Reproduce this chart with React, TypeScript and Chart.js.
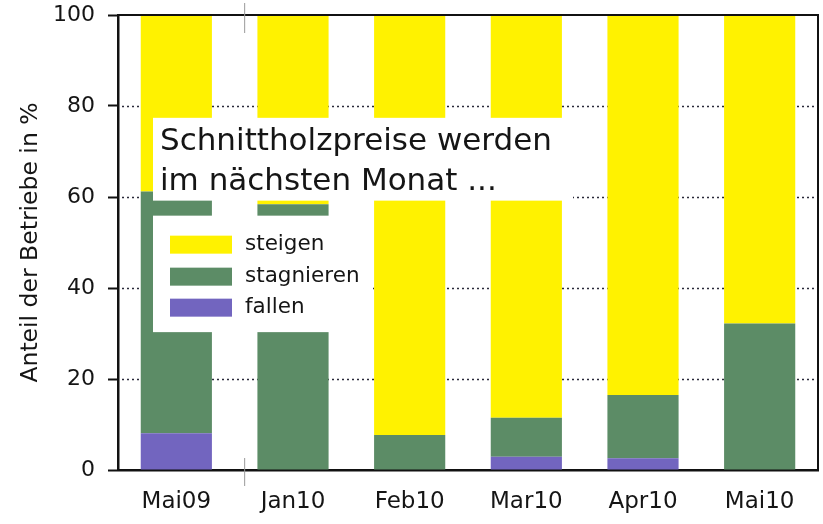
import React, { useEffect, useRef } from "react";
import { Chart, registerables } from "chart.js";

Chart.register(...registerables);

const categories = ["Mai09", "Jan10", "Feb10", "Mar10", "Apr10", "Mai10"];
const fallen = [8.1, 0, 0, 2.9, 2.6, 0];
const stagnieren = [53.1, 58.4, 7.7, 8.6, 13.9, 32.2];
const steigen = [38.8, 41.6, 92.3, 88.5, 83.5, 67.8];
const yTicks = [0, 20, 40, 60, 80, 100];
const legendLabels = ["steigen", "stagnieren", "fallen"];
const titleLines = ["Schnittholzpreise werden", "im nächsten Monat ..."];
const yAxisTitle = "Anteil der Betriebe in %";

const YELLOW = "#fff200";
const GREEN = "#5c8c66";
const PURPLE = "#7265bf";
const FONT = "'DejaVu Sans', sans-serif";
const TEXT = "#151515";

const overlayPlugin = {
  id: "overlay",
  beforeDatasetsDraw(chart: any) {
    const { ctx, chartArea: ca } = chart;
    const y = chart.scales.y;
    ctx.save();
    ctx.strokeStyle = "#2a2a3a";
    ctx.lineWidth = 1.6;
    ctx.setLineDash([2, 3]);
    yTicks.forEach((v) => {
      if (v === 0 || v === 100) return;
      const py = Math.round(y.getPixelForValue(v)) + 0.5;
      ctx.beginPath();
      ctx.moveTo(ca.left + 4, py);
      ctx.lineTo(ca.right, py);
      ctx.stroke();
    });
    ctx.restore();
  },
  afterDatasetsDraw(chart: any) {
    const { ctx, chartArea: ca } = chart;
    const y = chart.scales.y;
    const x = chart.scales.x;
    ctx.save();
    // title box
    const tTop = y.getPixelForValue(77.4);
    const tBot = y.getPixelForValue(59.2);
    ctx.fillStyle = "#ffffff";
    ctx.fillRect(ca.left + 35, tTop, 420, tBot - tTop);
    // legend box
    const lTop = y.getPixelForValue(55.9);
    const lBot = y.getPixelForValue(30.3);
    ctx.fillRect(ca.left + 35, lTop, 220, lBot - lTop);

    ctx.fillStyle = TEXT;
    ctx.font = `31px ${FONT}`;
    ctx.textAlign = "left";
    ctx.textBaseline = "alphabetic";
    ctx.fillText(titleLines[0], ca.left + 42, tTop + 32);
    ctx.fillText(titleLines[1], ca.left + 42, tTop + 72);

    const colors = [YELLOW, GREEN, PURPLE];
    const offs = [20, 52, 83];
    ctx.font = `21.5px ${FONT}`;
    ctx.textBaseline = "middle";
    legendLabels.forEach((lab, i) => {
      const top = lTop + offs[i];
      ctx.fillStyle = colors[i];
      ctx.fillRect(ca.left + 52, top, 62, 18);
      ctx.fillStyle = TEXT;
      ctx.fillText(lab, ca.left + 127, top + 9);
    });

    // top and right frame
    ctx.strokeStyle = "#111";
    ctx.lineWidth = 2;
    ctx.beginPath();
    ctx.moveTo(ca.left, ca.top);
    ctx.lineTo(ca.right, ca.top);
    ctx.lineTo(ca.right, ca.bottom);
    ctx.stroke();

    // axis break marks
    const bx = x.getPixelForValue(0.5) + 10;
    ctx.strokeStyle = "#999";
    ctx.lineWidth = 1;
    ctx.beginPath();
    ctx.moveTo(bx, ca.top - 12);
    ctx.lineTo(bx, ca.top + 18);
    ctx.moveTo(bx, ca.bottom - 12);
    ctx.lineTo(bx, ca.bottom + 16);
    ctx.stroke();
    ctx.restore();
  },
};

export default function App() {
  const ref = useRef<HTMLCanvasElement>(null);
  useEffect(() => {
    if (!ref.current) return;
    const chart = new Chart(ref.current, {
      type: "bar",
      data: {
        labels: categories,
        datasets: [
          { label: "fallen", data: fallen, backgroundColor: PURPLE },
          { label: "stagnieren", data: stagnieren, backgroundColor: GREEN },
          { label: "steigen", data: steigen, backgroundColor: YELLOW },
        ],
      },
      options: {
        animation: false,
        responsive: true,
        maintainAspectRatio: false,
        layout: { padding: { top: 15, right: 5, left: 0, bottom: 0 } },
        plugins: { legend: { display: false }, tooltip: { enabled: false } },
        datasets: { bar: { barPercentage: 0.61, categoryPercentage: 1 } },
        scales: {
          x: {
            stacked: true,
            grid: { display: false, drawTicks: false },
            border: { display: true, color: "#111", width: 2.5 },
            ticks: {
              color: TEXT,
              padding: 18,
              font: { family: FONT, size: 23 },
            },
            afterFit(scale: any) {
              scale.height = 54;
              scale.paddingLeft = 0;
              scale.paddingRight = 0;
            },
          },
          y: {
            stacked: true,
            min: 0,
            max: 100,
            grid: {
              drawOnChartArea: false,
              drawTicks: true,
              tickLength: 10,
              tickColor: "#111",
              tickWidth: 2,
            },
            border: { display: true, color: "#111", width: 2.5 },
            ticks: {
              stepSize: 20,
              color: TEXT,
              padding: 13,
              font: { family: FONT, size: 22 },
            },
            title: {
              display: true,
              text: yAxisTitle,
              color: TEXT,
              font: { family: FONT, size: 23.5 },
              padding: { top: 17, bottom: 0 },
            },
            afterFit(scale: any) {
              scale.width = 118;
              scale.paddingTop = 0;
              scale.paddingBottom = 0;
            },
          },
        },
      },
      plugins: [overlayPlugin],
    });
    return () => chart.destroy();
  }, []);
  return (
    <div style={{ position: "fixed", left: 0, top: 0, width: 823, height: 524, background: "#fff" }}>
      <canvas ref={ref} />
    </div>
  );
}
